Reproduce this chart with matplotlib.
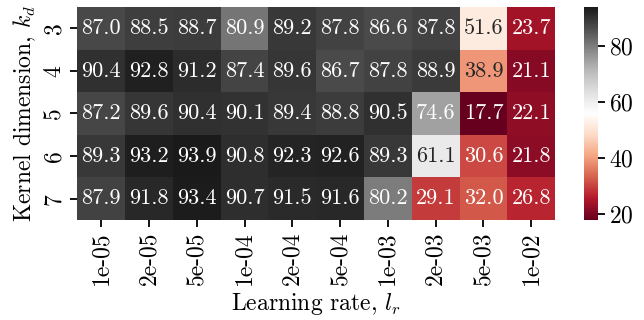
import numpy as np
import matplotlib
matplotlib.use("Agg")
import matplotlib.pyplot as plt
import seaborn as sns

learning_rates = ["1e-05", "2e-05", "5e-05", "1e-04", "2e-04",
                  "5e-04", "1e-03", "2e-03", "5e-03", "1e-02"]
kernel_dims = [3, 4, 5, 6, 7]

acc_k3 = [87.0, 88.5, 88.7, 80.9, 89.2, 87.8, 86.6, 87.8, 51.6, 23.7]
acc_k4 = [90.4, 92.8, 91.2, 87.4, 89.6, 86.7, 87.8, 88.9, 38.9, 21.1]
acc_k5 = [87.2, 89.6, 90.4, 90.1, 89.4, 88.8, 90.5, 74.6, 17.7, 22.1]
acc_k6 = [89.3, 93.2, 93.9, 90.8, 92.3, 92.6, 89.3, 61.1, 30.6, 21.8]
acc_k7 = [87.9, 91.8, 93.4, 90.7, 91.5, 91.6, 80.2, 29.1, 32.0, 26.8]

plt.rcParams['font.family'] = ['cmr10', 'DejaVu Serif']
plt.rcParams['mathtext.fontset'] = 'cm'
plt.rcParams['axes.formatter.use_mathtext'] = True
plt.rcParams['font.size'] = 17

data = np.array([acc_k3, acc_k4, acc_k5, acc_k6, acc_k7])

fig = plt.figure(figsize=(6.44, 3.2), dpi=100)
ax = fig.add_axes([0.12, 0.3125, 0.742, 0.666])
cax = fig.add_axes([0.907, 0.3125, 0.021, 0.666])

sns.heatmap(data, ax=ax, cbar_ax=cax, cmap="RdGy", annot=True, fmt=".1f",
            annot_kws={"fontsize": 16},
            xticklabels=learning_rates, yticklabels=kernel_dims)

ax.set_xlabel(r"Learning rate, $l_r$", fontsize=17, labelpad=4)
ax.set_ylabel(r"Kernel dimension, $k_d$", fontsize=17, labelpad=4)
ax.tick_params(axis='x', labelsize=17, rotation=90, length=5, width=1.3)
ax.tick_params(axis='y', labelsize=17, rotation=90, length=5, width=1.3)
for lbl in ax.get_yticklabels():
    lbl.set_va('center')
cax.tick_params(labelsize=17, length=5, width=1.3)
cax.set_yticks([20, 40, 60, 80])

fig.savefig("out.png", dpi=100)
